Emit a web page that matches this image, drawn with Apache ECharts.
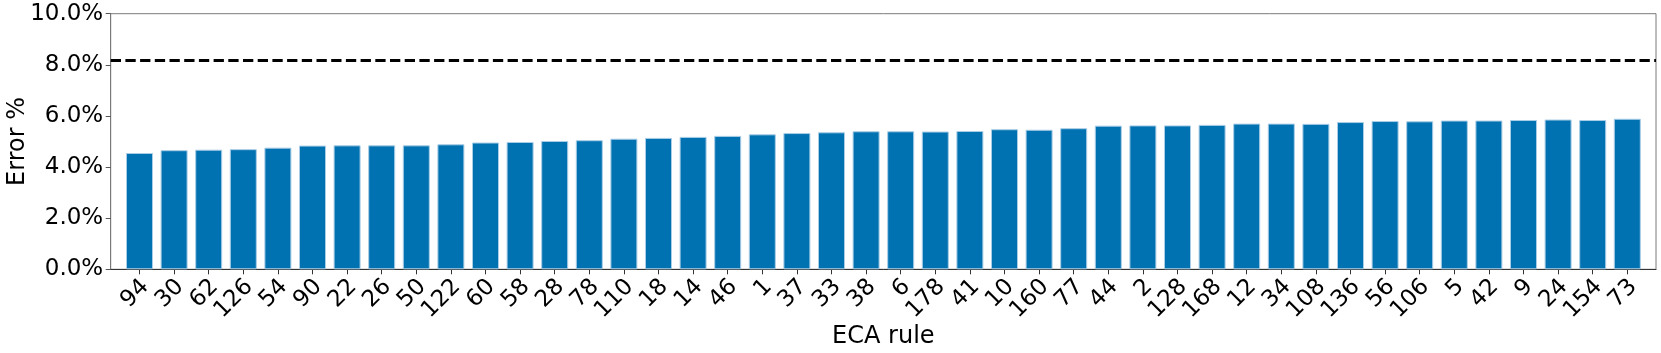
<!DOCTYPE html>
<html>
<head>
<meta charset="utf-8">
<script src="https://cdn.jsdelivr.net/npm/echarts@6/dist/echarts.min.js"></script>
<style>
html,body{margin:0;padding:0;background:#fff;}
#chart{width:1661px;height:353px;}
</style>
</head>
<body>
<div id="chart"></div>
<script>
const categories = ['94','30','62','126','54','90','22','26','50','122','60','58','28','78','110','18','14','46','1','37','33','38','6','178','41','10','160','77','44','2','128','168','12','34','108','136','56','106','5','42','9','24','154','73'];
const errorValues = [4.55,4.66,4.68,4.70,4.76,4.84,4.85,4.85,4.85,4.89,4.96,4.98,5.02,5.05,5.11,5.14,5.18,5.22,5.28,5.33,5.36,5.40,5.40,5.39,5.41,5.48,5.46,5.52,5.62,5.63,5.63,5.65,5.70,5.70,5.69,5.76,5.80,5.79,5.82,5.82,5.84,5.86,5.84,5.89];
const threshold = 8.16;
const yTicks = [0, 2, 4, 6, 8, 10];

const FONT = 'DejaVu Sans';
const chart = echarts.init(document.getElementById('chart'), null, {renderer: 'canvas'});

const gridTop = 13.7, gridBottom = 83.7;
const gridCommon = {top: gridTop, bottom: gridBottom, containLabel: false, outerBoundsMode: 'none'};
const option = {
  animation: false,
  backgroundColor: '#ffffff',
  textStyle: {fontFamily: FONT},
  grid: [
    Object.assign({left: 110.7, right: 5, show: true, borderColor: '#7a7a7a', borderWidth: 1, backgroundColor: 'transparent'}, gridCommon),
    Object.assign({left: 122.2, right: 16.4}, gridCommon),
    Object.assign({left: 128.2, right: 10.4}, gridCommon)
  ],
  xAxis: [
    {gridIndex: 0, type: 'value', min: 0, max: 1,
     axisLine: {show: true, lineStyle: {color: '#333', width: 1}},
     axisTick: {show: false}, axisLabel: {show: false}, splitLine: {show: false},
     name: 'ECA rule', nameLocation: 'middle', nameGap: 55, nameMoveOverlap: false,
     nameTextStyle: {fontFamily: FONT, fontSize: 24, color: '#000'}},
    {gridIndex: 1, type: 'category', data: categories, boundaryGap: true,
     axisLine: {show: false},
     axisTick: {show: true, alignWithLabel: true, length: 5, lineStyle: {color: '#333', width: 1}},
     axisLabel: {show: false}, splitLine: {show: false}},
    {gridIndex: 2, type: 'category', data: categories, boundaryGap: true,
     axisLine: {show: false}, axisTick: {show: false}, splitLine: {show: false},
     axisLabel: {show: true, interval: 0, rotate: 45, margin: 14, fontFamily: FONT, fontSize: 23, color: '#000'}}
  ],
  yAxis: [
    {gridIndex: 0, type: 'value', min: 0, max: 10, interval: 2,
     axisLine: {show: true, lineStyle: {color: '#7a7a7a', width: 1}},
     axisTick: {show: true, length: 5, lineStyle: {color: '#555', width: 1}},
     splitLine: {show: false},
     axisLabel: {show: true, margin: 7.5, fontFamily: FONT, fontSize: 23, color: '#000',
       formatter: v => yTicks.includes(v) ? v.toFixed(1) + '%' : ''},
     name: 'Error %', nameLocation: 'middle', nameGap: 81, nameMoveOverlap: false,
     nameTextStyle: {fontFamily: FONT, fontSize: 24, color: '#000'}},
    {gridIndex: 1, type: 'value', min: 0, max: 10, show: false},
    {gridIndex: 2, type: 'value', min: 0, max: 10, show: false}
  ],
  series: [
    {type: 'bar', xAxisIndex: 1, yAxisIndex: 1, data: errorValues, barWidth: 27,
     itemStyle: {color: '#0172b1', borderColor: '#a9cde6', borderWidth: 1}},
    {type: 'line', xAxisIndex: 0, yAxisIndex: 0, data: [], silent: true,
     markLine: {silent: true, symbol: ['none', 'none'], label: {show: false},
       lineStyle: {color: '#000', width: 2.8, type: [10.3, 4.4]},
       data: [{yAxis: threshold}]}}
  ]
};
chart.setOption(option);
</script>
</body>
</html>
